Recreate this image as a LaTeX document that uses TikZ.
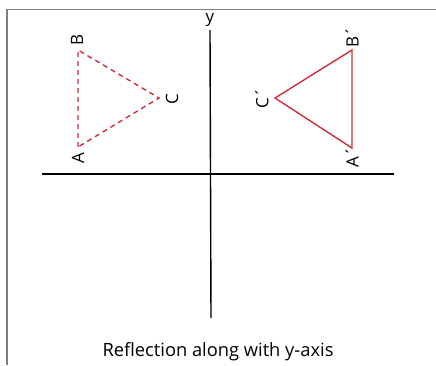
\documentclass[tikz,border=0pt]{standalone}
\usepackage{fontspec}
\setmainfont{Open Sans}
\usepackage{tikz}
\usetikzlibrary{positioning}
\definecolor{trired}{RGB}{204,46,58}
\definecolor{framegray}{RGB}{125,125,125}
\tikzset{
  axis/.style={draw=black, line width=1.4pt},
  frameline/.style={draw=framegray, line width=1.6pt},
  origtri/.style={draw=trired, line width=1.4pt, dashed, dash pattern=on 5pt off 4pt},
  imagetri/.style={draw=trired, line width=1.4pt},
  vlabel/.style={font=\fontsize{17}{19}\selectfont, rotate=90, inner sep=0pt},
  caption/.style={font=\fontsize{18.3}{21}\selectfont, inner sep=0pt}
}

\begin{document}
\begin{tikzpicture}[x=1pt,y=-1pt]
\useasboundingbox (0,0) rectangle (436,365);
% frame
\draw[frameline] (7,365) -- (7,9.5) -- (436,9.5);
% axes
\coordinate (xl) at (42,174);
\coordinate (xr) at (394,174);
\coordinate (yb) at (211,318);
\coordinate (yt) at (210,30);
\draw[axis] (xl) -- (xr);
\draw[axis] (yb) -- (yt);
\node[font=\fontsize{17}{19}\selectfont, inner sep=0pt] (ylab) at (210,20) {y};
% original triangle
\coordinate (A) at (78,147);
\coordinate (B) at (78,50);
\coordinate (C) at (159,98);
\draw[origtri] (A) -- (B) -- (C) -- cycle;
\node[vlabel] (la) at (78,158) {A};
\node[vlabel] (lb) at (77,40) {B};
\node[vlabel] (lc) at (172,99) {C};
% reflected triangle
\coordinate (A') at (352,148);
\coordinate (B') at (352,50);
\coordinate (C') at (275,98);
\draw[imagetri] (A') -- (B') -- (C') -- cycle;
\node[vlabel] (la') at (352,157) {A´};
\node[vlabel] (lb') at (352,37) {B´};
\node[vlabel] (lc') at (262,98) {C´};
% caption
\node[caption] (cap) at (218,352) {Reflection along with y-axis};
\end{tikzpicture}
\end{document}
